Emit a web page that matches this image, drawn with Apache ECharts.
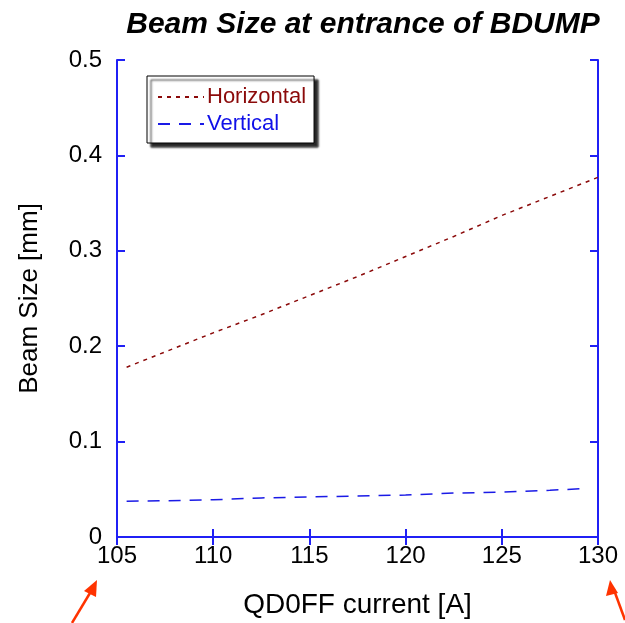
<!DOCTYPE html>
<html>
<head>
<meta charset="utf-8">
<script src="https://cdn.jsdelivr.net/npm/echarts@6/dist/echarts.min.js"></script>
<style>
  html, body { margin: 0; padding: 0; background: #fff; }
  #chart { width: 625px; height: 623px; }
</style>
</head>
<body>
<div id="chart"></div>
<script>
// QD0FF current [A]
var currentH = [105.5, 107.5, 110, 112.5, 115, 117.5, 120, 122.5, 125, 127.5, 130];
var currentV = [105.5, 107.5, 110, 112.5, 115, 117.5, 120, 122.5, 125, 127.5, 129.5];
// beam size [mm]
var horizontal = [0.178, 0.194, 0.214, 0.233, 0.253, 0.273, 0.294, 0.315, 0.337, 0.357, 0.377];
var vertical = [0.0375, 0.038, 0.039, 0.041, 0.042, 0.043, 0.044, 0.046, 0.047, 0.049, 0.051];

function pairs(xs, ys) {
  var out = [];
  for (var i = 0; i < xs.length; i++) out.push([xs[i], ys[i]]);
  return out;
}

var axisBlue = '#2020f5';
var font = 'Liberation Sans, Arial, sans-serif';

var chart = echarts.init(document.getElementById('chart'));
var option = {
  animation: false,
  title: {
    text: 'Beam Size at entrance of BDUMP',
    left: 358, top: 5, textAlign: 'center',
    textStyle: { fontFamily: font, fontSize: 30, fontWeight: 'bold', fontStyle: 'italic', color: '#000' }
  },
  grid: { left: 117, right: 27, top: 60, bottom: 86, outerBoundsMode: 'none', containLabel: false },
  legend: {
    left: 147, top: 76, width: 176, height: 70,
    orient: 'vertical',
    padding: [10, 8, 8, 10],
    itemGap: 5,
    itemWidth: 46, itemHeight: 20,
    backgroundColor: '#fff',
    borderColor: '#000', borderWidth: 1,
    shadowColor: 'rgba(0,0,0,0.85)', shadowOffsetX: 4, shadowOffsetY: 4, shadowBlur: 2,
    itemStyle: { opacity: 0, borderWidth: 0 },
    textStyle: { fontFamily: font, fontSize: 22, padding: [0, 0, 0, -2] },
    data: [
      { name: 'Horizontal', textStyle: { color: '#8b0a0a' } },
      { name: 'Vertical', textStyle: { color: '#1010e8' } }
    ]
  },
  xAxis: [{
    type: 'value', min: 105, max: 130, interval: 5,
    name: 'QD0FF current [A]', nameLocation: 'middle', nameGap: 54,
    nameTextStyle: { fontFamily: font, fontSize: 28, color: '#000' },
    axisLine: { lineStyle: { color: axisBlue, width: 2 } },
    axisTick: { inside: true, length: 8, lineStyle: { color: axisBlue, width: 2 } },
    axisLabel: { fontFamily: font, fontSize: 24, color: '#000', margin: 7 },
    splitLine: { show: false }
  }, {
    type: 'value', min: 105, max: 130, interval: 5, position: 'top',
    axisLine: { show: true, lineStyle: { color: axisBlue, width: 2 } },
    axisTick: { show: true, inside: true, length: 8, lineStyle: { color: axisBlue, width: 2 } },
    axisLabel: { show: false }, splitLine: { show: false }
  }],
  yAxis: [{
    type: 'value', min: 0, max: 0.5, interval: 0.1,
    name: 'Beam Size [mm]', nameLocation: 'middle', nameGap: 74,
    nameTextStyle: { fontFamily: font, fontSize: 26, color: '#000' },
    axisLine: { show: true, lineStyle: { color: axisBlue, width: 2 } },
    axisTick: { show: true, inside: true, length: 8, lineStyle: { color: axisBlue, width: 2 } },
    axisLabel: { fontFamily: font, fontSize: 24, color: '#000', margin: 15,
      formatter: function (v) { return String(Math.round(v * 10) / 10); } },
    splitLine: { show: false }
  }, {
    type: 'value', min: 0, max: 0.5, interval: 0.1, position: 'right',
    axisLine: { show: true, lineStyle: { color: axisBlue, width: 2 } },
    axisTick: { show: true, inside: true, length: 8, lineStyle: { color: axisBlue, width: 2 } },
    axisLabel: { show: false }, splitLine: { show: false }
  }],
  series: [{
    name: 'Horizontal', type: 'line', symbol: 'none',
    data: pairs(currentH, horizontal),
    lineStyle: { color: '#8b0a0a', width: 1.5, type: [4, 5] },
    itemStyle: { color: '#8b0a0a' }
  }, {
    name: 'Vertical', type: 'line', symbol: 'none',
    data: pairs(currentV, vertical),
    lineStyle: { color: '#1a1ae6', width: 1.5, type: [12, 9] },
    itemStyle: { color: '#1a1ae6' }
  }],
  graphic: [
    { type: 'line', shape: { x1: 72, y1: 623, x2: 93, y2: 588 }, style: { stroke: '#ff3300', lineWidth: 2.5 } },
    { type: 'polygon', shape: { points: [[97, 580], [84, 591], [96, 597]] }, style: { fill: '#ff3300' } },
    { type: 'line', shape: { x1: 625, y1: 620, x2: 614, y2: 590 }, style: { stroke: '#ff3300', lineWidth: 2.5 } },
    { type: 'polygon', shape: { points: [[610, 580], [606, 596], [618, 593]] }, style: { fill: '#ff3300' } }
  ]
};
chart.setOption(option);
</script>
</body>
</html>
